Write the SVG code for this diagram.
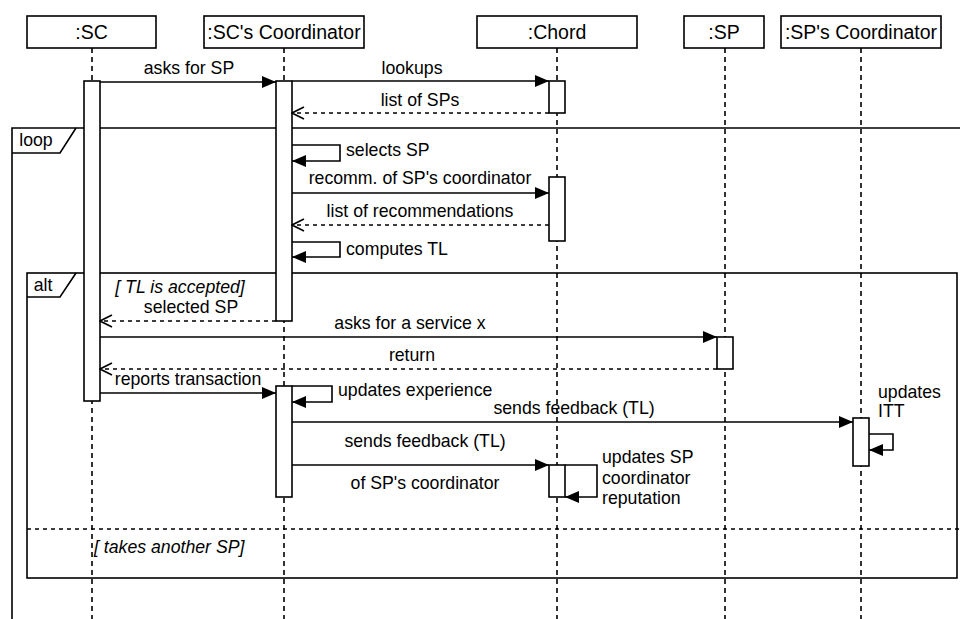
<svg xmlns="http://www.w3.org/2000/svg" width="960" height="619" viewBox="0 0 960 619">
<style>
text{font-family:"Liberation Sans",Arial,sans-serif;font-size:17.7px;fill:#000}
.h{font-size:19.5px}
.c{text-anchor:middle}
.i{font-style:italic}
.box{fill:#fff;stroke:#000;stroke-width:1.6}
.life{stroke:#000;stroke-width:1.6;stroke-dasharray:5 4;fill:none}
.frame{fill:none;stroke:#000;stroke-width:1.6}
.msg{stroke:#000;stroke-width:1.6;fill:none}
.ret{stroke:#000;stroke-width:1.6;fill:none;stroke-dasharray:4 4}
</style>
<defs>
<marker id="fa" viewBox="0 0 14 12" refX="14" refY="6" markerWidth="14" markerHeight="12" markerUnits="userSpaceOnUse" orient="auto">
<path d="M0,0 L14,6 L0,12 Z" fill="#000"/>
</marker>
<marker id="oa" viewBox="0 0 14 14" refX="13" refY="7" markerWidth="14" markerHeight="14" markerUnits="userSpaceOnUse" orient="auto">
<path d="M1,1 L13,7 L1,13" fill="none" stroke="#000" stroke-width="1.6"/>
</marker>
</defs>
<rect width="960" height="619" fill="#fff"/>

<g id="lifelines">
<line class="life" x1="92" y1="48" x2="92" y2="619"/>
<line class="life" x1="284" y1="48" x2="284" y2="619"/>
<line class="life" x1="557" y1="48" x2="557" y2="619"/>
<line class="life" x1="725" y1="48" x2="725" y2="619"/>
<line class="life" x1="861" y1="48" x2="861" y2="619"/>
</g>

<g id="frame-loop">
<path class="frame" d="M12,619 L12,128 L962,128"/>
<path class="frame" d="M12,153 L60,153 L76,128"/>
<text class="c" x="36" y="146">loop</text>
</g>

<g id="frame-alt">
<rect class="frame" x="27" y="273" width="930" height="305"/>
<path class="frame" d="M27,297 L60,297 L76,273"/>
<text class="c" x="43" y="291">alt</text>
<line x1="27" y1="529" x2="960" y2="529" stroke="#000" stroke-width="1.6" stroke-dasharray="4 4"/>
<text class="i" x="94" y="553">[ takes another SP]</text>
</g>

<g id="node-sc">
<rect class="box" x="27" y="16" width="129" height="32"/>
<text class="c h" x="91.5" y="39">:SC</text>
<rect class="box" x="84" y="81" width="16" height="320"/>
</g>

<g id="node-scc">
<rect class="box" x="204" y="16" width="160" height="32"/>
<text class="c h" x="284" y="39">:SC's Coordinator</text>
<rect class="box" x="276" y="81" width="16" height="240"/>
<rect class="box" x="276" y="386" width="16" height="111"/>
</g>

<g id="node-chord">
<rect class="box" x="477" y="16" width="160" height="32"/>
<text class="c h" x="557" y="39">:Chord</text>
<rect class="box" x="549" y="81" width="16" height="32"/>
<rect class="box" x="549" y="177" width="16" height="64"/>
<rect class="box" x="549" y="465" width="16" height="32"/>
</g>

<g id="node-sp">
<rect class="box" x="684" y="16" width="80" height="32"/>
<text class="c h" x="724" y="39">:SP</text>
<rect class="box" x="717" y="337" width="16" height="32"/>
</g>

<g id="node-spc">
<rect class="box" x="781" y="16" width="160" height="32"/>
<text class="c h" x="861" y="39">:SP's Coordinator</text>
<rect class="box" x="853" y="418" width="16" height="48"/>
</g>

<g id="connectors">
<line class="msg" x1="100" y1="82" x2="276" y2="82" marker-end="url(#fa)"/>
<line class="msg" x1="292" y1="81" x2="549" y2="81" marker-end="url(#fa)"/>
<line class="ret" x1="549" y1="113" x2="292" y2="113" marker-end="url(#oa)"/>
<path class="msg" d="M292,145 L340,145 L340,161 L292,161" marker-end="url(#fa)"/>
<line class="msg" x1="292" y1="193" x2="549" y2="193" marker-end="url(#fa)"/>
<line class="ret" x1="549" y1="225" x2="292" y2="225" marker-end="url(#oa)"/>
<path class="msg" d="M292,242 L340,242 L340,257 L292,257" marker-end="url(#fa)"/>
<line class="ret" x1="276" y1="321" x2="100" y2="321" marker-end="url(#oa)"/>
<line class="msg" x1="100" y1="337" x2="717" y2="337" marker-end="url(#fa)"/>
<line class="ret" x1="717" y1="369" x2="100" y2="369" marker-end="url(#oa)"/>
<line class="msg" x1="100" y1="393" x2="276" y2="393" marker-end="url(#fa)"/>
<path class="msg" d="M292,386 L332,386 L332,402 L292,402" marker-end="url(#fa)"/>
<line class="msg" x1="292" y1="422" x2="853" y2="422" marker-end="url(#fa)"/>
<path class="msg" d="M869,434 L893,434 L893,450 L869,450" marker-end="url(#fa)"/>
<line class="msg" x1="292" y1="465" x2="549" y2="465" marker-end="url(#fa)"/>
<path class="msg" d="M565,465 L597,465 L597,497 L565,497" marker-end="url(#fa)"/>
</g>

<g id="labels">
<text class="c" x="189" y="74">asks for SP</text>
<text class="c" x="412" y="74">lookups</text>
<text class="c" x="420" y="106">list of SPs</text>
<text x="346" y="156">selects SP</text>
<text class="c" x="420" y="184">recomm. of SP's coordinator</text>
<text class="c" x="420" y="217">list of recommendations</text>
<text x="346" y="255">computes TL</text>
<text class="c i" x="180" y="293">[ TL is accepted]</text>
<text class="c" x="191" y="313">selected SP</text>
<text class="c" x="410" y="329">asks for a service x</text>
<text class="c" x="412" y="361">return</text>
<rect x="114" y="370" width="148" height="20" fill="#fff"/>
<text class="c" x="188" y="385">reports transaction</text>
<text x="338" y="396">updates experience</text>
<text class="c" x="574" y="414">sends feedback (TL)</text>
<text x="878" y="398">updates</text>
<text x="878" y="417">ITT</text>
<text class="c" x="425" y="447">sends feedback (TL)</text>
<text class="c" x="425" y="489">of SP's coordinator</text>
<text x="602" y="463">updates SP</text>
<text x="602" y="484">coordinator</text>
<text x="602" y="504">reputation</text>
</g>
</svg>
